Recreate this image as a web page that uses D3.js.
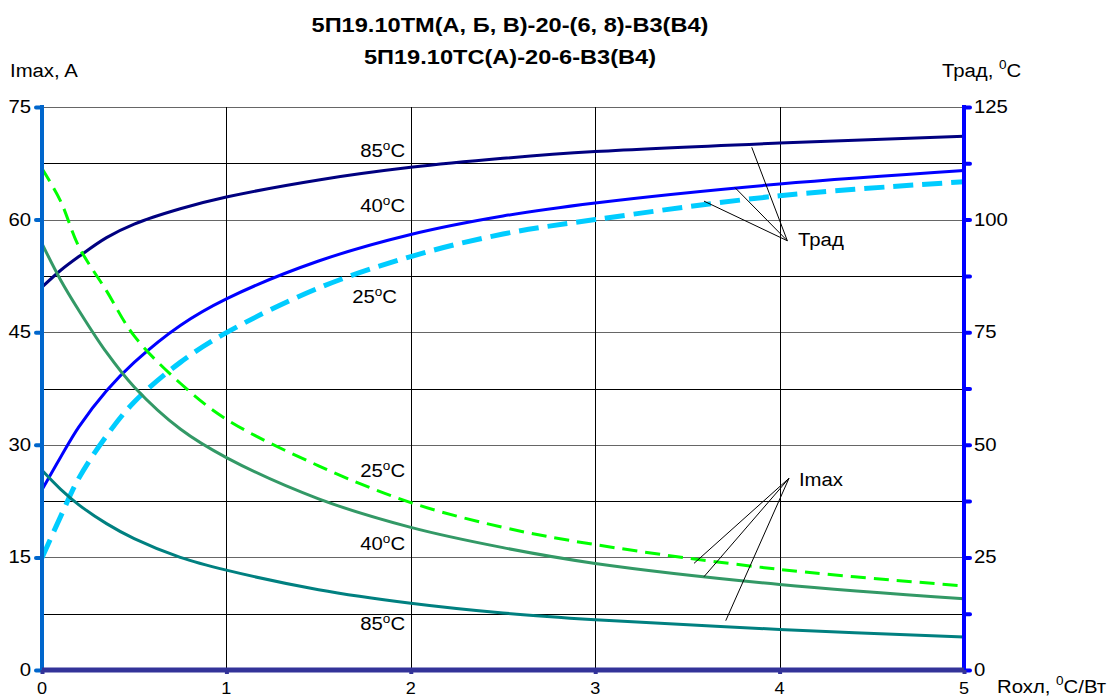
<!DOCTYPE html>
<html><head><meta charset="utf-8">
<script src="https://cdn.jsdelivr.net/npm/d3@7"></script>
<style>
body{margin:0;background:#fff;}
svg{font-family:"Liberation Sans",Arial,sans-serif;}
</style></head>
<body><svg id="c" width="1107" height="699"></svg>
<script>
// ---- data ----
const titleLines = ["5П19.10ТМ(А, Б, В)-20-(6, 8)-В3(В4)", "5П19.10ТС(А)-20-6-В3(В4)"];
const xTicks = [0,1,2,3,4,5];
const leftTicks = [0,15,30,45,60,75];
const rightTicks = [0,25,50,75,100,125];
const rightMinor = [0,12.5,25,37.5,50,62.5,75,87.5,100,112.5,125];
const gridLeft = [7.5,15,22.5,30,37.5,45,52.5,60,67.5,75];

const R = [0,0.1,0.2,0.35,0.5,0.75,1,1.5,2,2.5,3,4,5];
// Трад (right axis)
const T85 = [85.0,88.7,91.8,96.0,99.0,102.4,105.0,108.8,111.6,113.6,115.1,117.0,118.5];
const T40 = [40.0,47.2,54.0,62.0,68.3,76.5,82.4,90.8,96.7,100.8,103.7,107.9,110.9];
const T25 = [24.9,34.0,42.6,52.0,59.5,68.3,74.9,84.8,91.8,96.8,100.0,105.3,108.4];
// Imax (left axis)
const I25 = [66.8,62.5,56.4,50.5,44.5,38.2,33.4,27.2,22.3,19.0,16.7,13.4,11.2];
const I40 = [56.8,52.0,47.9,42.3,37.7,32.1,28.3,22.8,19.0,16.3,14.2,11.4,9.5];
const I85 = [26.6,24.1,22.0,19.5,17.5,15.0,13.3,10.7,8.9,7.6,6.7,5.4,4.4];

// ---- layout ----
const svg = d3.select("#c");
const x = d3.scaleLinear().domain([0,5]).range([42,964]);
const yL = d3.scaleLinear().domain([0,75]).range([670,107]);
const yR = d3.scaleLinear().domain([0,125]).range([670,107]);
const SX = 1.13;   // horizontal stretch of reference lettering
const FS = 18;

function txt(px, py, size, anchor, sx){
  return svg.append("text").attr("transform",`translate(${px},${py}) scale(${sx||SX},1)`)
    .attr("font-size",size||FS).attr("text-anchor",anchor||"start");
}
function sup(t, base, s, rest, dy){
  t.append("tspan").text(base);
  t.append("tspan").attr("font-size",12).attr("dy",-(dy||8)).text(s);
  t.append("tspan").attr("dy",(dy||8)).text(rest);
}

// gridlines
const g = svg.append("g");
g.selectAll("line.h").data(gridLeft).join("line")
  .attr("x1",x(0)).attr("x2",x(5)).attr("y1",d=>Math.round(yL(d))+0.5).attr("y2",d=>Math.round(yL(d))+0.5)
  .attr("stroke",(d,i)=> (i%2===0)?"#000":"#666").attr("stroke-width",1);
g.selectAll("line.v").data(xTicks.slice(1,5)).join("line")
  .attr("x1",d=>Math.round(x(d))+0.5).attr("x2",d=>Math.round(x(d))+0.5).attr("y1",yL(75)).attr("y2",yL(0))
  .attr("stroke","#000").attr("stroke-width",1);

// series
const series = [
  {v:T85, y:yR, c:"#000080", w:3, dash:null},
  {v:T40, y:yR, c:"#0000FF", w:3, dash:null},
  {v:T25, y:yR, c:"#00CCFF", w:5, dash:"20,9"},
  {v:I25, y:yL, c:"#00FF00", w:3, dash:"15,8"},
  {v:I40, y:yL, c:"#339966", w:3, dash:null},
  {v:I85, y:yL, c:"#008080", w:3, dash:null},
];
series.forEach(s=>{
  const line = d3.line().x((d,i)=>x(R[i])).y(d=>s.y(d)).curve(d3.curveCatmullRom.alpha(0.5));
  svg.append("path").attr("d",line(s.v)).attr("fill","none").attr("stroke",s.c)
    .attr("stroke-width",s.w).attr("stroke-dasharray",s.dash);
});

// axes
const axL = d3.axisLeft(yL).tickValues(leftTicks).tickSize(6).tickFormat("");
const gl = svg.append("g").attr("transform",`translate(${x(0)},0)`).call(axL);
gl.select(".domain").attr("stroke","#0066CC").attr("stroke-width",4).attr("d",`M0,${yL(75)-2}V${yL(0)}`);
gl.selectAll(".tick line").attr("stroke","#0066CC").attr("stroke-width",4).attr("stroke-linecap","round");
leftTicks.forEach(v=> txt(x(0)-11, yL(v)+6, FS, "end").text(v));

const axR = d3.axisRight(yR).tickValues(rightMinor).tickSize(6).tickFormat("");
const gr = svg.append("g").attr("transform",`translate(${x(5)},0)`).call(axR);
gr.select(".domain").attr("stroke","#0000FF").attr("stroke-width",4).attr("d",`M0,${yR(125)-2}V${yR(0)}`);
gr.selectAll(".tick line").attr("stroke","#0000FF").attr("stroke-width",4).attr("stroke-linecap","round");
rightTicks.forEach(v=> txt(x(5)+10, yR(v)+6, FS, "start").text(v));

const axB = d3.axisBottom(x).tickValues(xTicks).tickSize(4).tickFormat("");
const gb = svg.append("g").attr("transform",`translate(0,${yL(0)})`).call(axB);
gb.select(".domain").attr("stroke","#333399").attr("stroke-width",5).attr("d",`M${x(0)},0H${x(5)}`);
gb.selectAll(".tick line").attr("stroke","#333399").attr("stroke-width",4);
xTicks.forEach(v=> txt(x(v), 694, 16, "middle").text(v));

// titles
titleLines.forEach((d,i)=> txt(510, 32+i*32, 20, "middle", 1.18).attr("font-weight","bold").text(d));
txt(10, 77).text("Imax, A");
sup(txt(942, 77), "Трад, ", "0", "C");
sup(txt(997, 693), "Rохл, ", "0", "C/Вт");

// curve labels
const labels = [
  {t:"85", r:1.969, v:113.9, y:yR},
  {t:"40", r:1.969, v:101.7, y:yR},
  {t:"25", r:1.925, v:81.5, y:yR},
  {t:"25", r:1.969, v:25.7, y:yL},
  {t:"40", r:1.969, v:16.0, y:yL},
  {t:"85", r:1.969, v:5.3, y:yL},
];
labels.forEach(l=> sup(txt(x(l.r), l.y(l.v), FS, "end"), l.t, "o", "C", 7));

// annotation pointers
const annT = {hub:[4.042,95.3], ends:[[3.849,116.05],[3.758,107.1],[3.59,104.1]], y:yR, label:"Трад", lab:[4.10,94.1]};
const annI = {hub:[4.051,25.54], ends:[[3.536,14.21],[3.59,12.43],[3.708,6.57]], y:yL, label:"Imax", lab:[4.105,24.5]};
[annT,annI].forEach(a=>{
  a.ends.forEach(e=>{
    svg.append("line").attr("x1",x(a.hub[0])).attr("y1",a.y(a.hub[1]))
      .attr("x2",x(e[0])).attr("y2",a.y(e[1])).attr("stroke","#000").attr("stroke-width",1);
  });
  txt(x(a.lab[0]), a.y(a.lab[1])).text(a.label);
});
</script></body></html>
